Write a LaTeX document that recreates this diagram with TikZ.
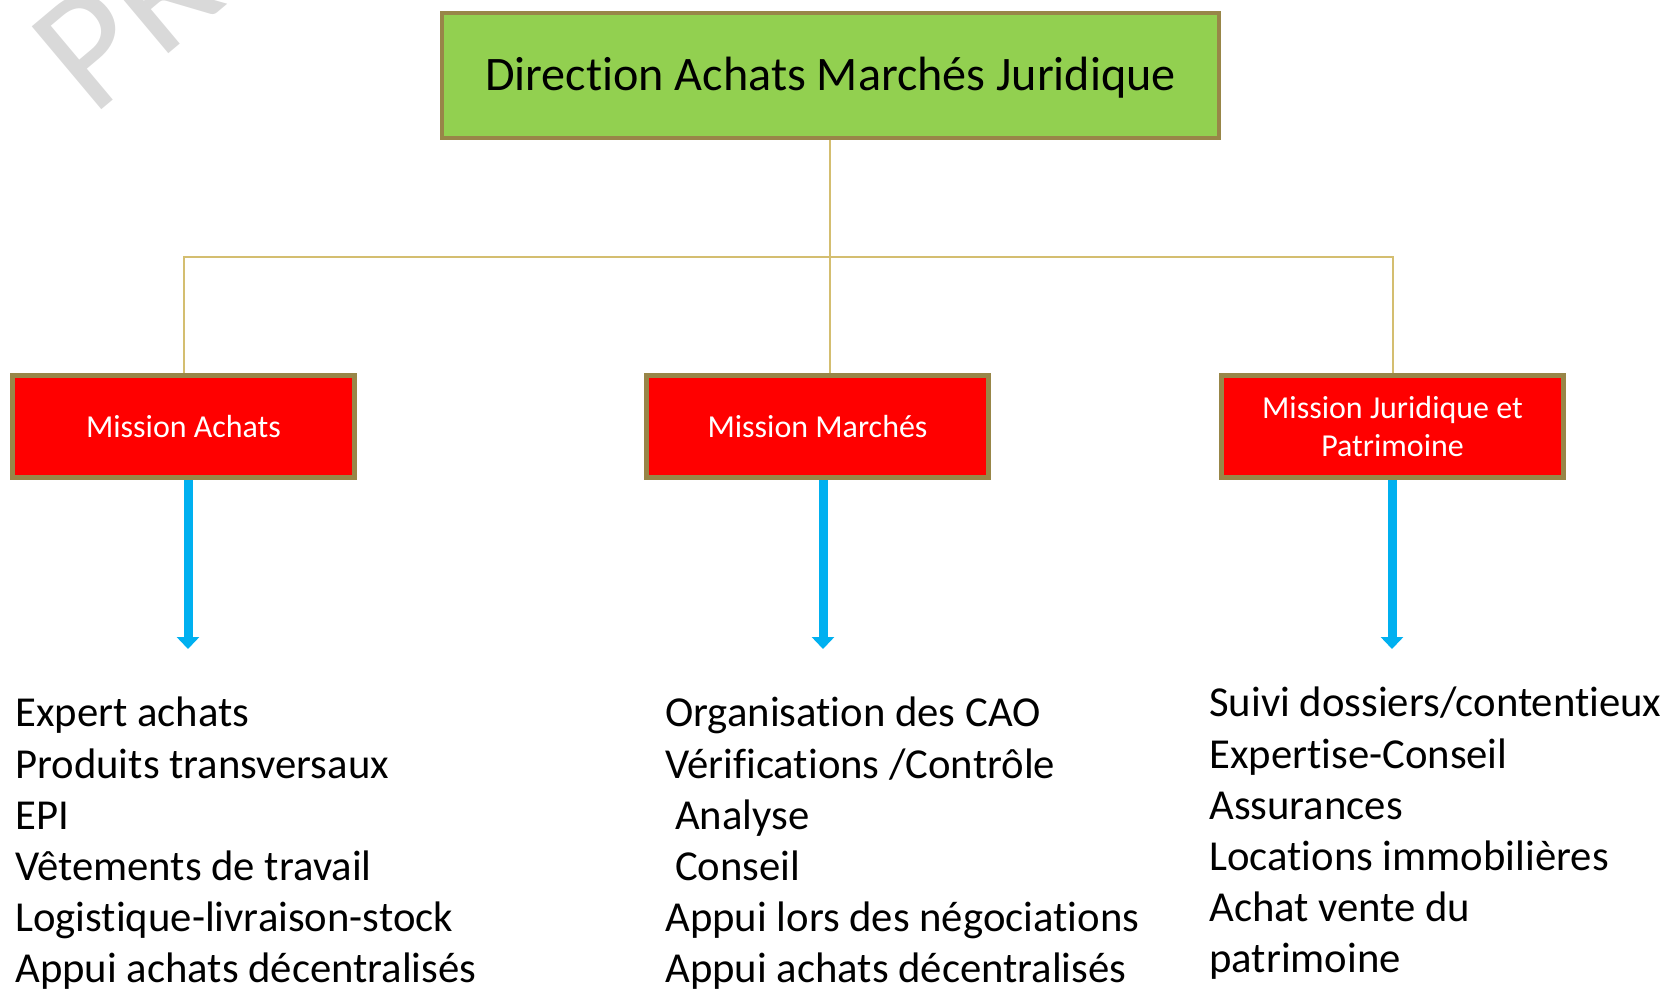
\documentclass[tikz,border=0pt]{standalone}
\usepackage{fontspec}
\setmainfont{Carlito}[RawFeature={-liga;-clig;-calt;-dlig}]
\usetikzlibrary{arrows.meta}

\begin{document}
\begin{tikzpicture}[x=0.02cm, y=-0.02cm,
        dirbox/.style={draw=cadre, fill=vertDir, line width=0.08cm, minimum width=15.54cm, minimum height=2.5cm, inner sep=0pt, font=\fontsize{27.4}{33}\selectfont},
        missionbox/.style={draw=cadre, fill=rougeMission, line width=0.1cm, minimum width=6.84cm, minimum height=2.04cm, inner sep=0pt, text=white, align=center, font=\fontsize{18.2}{21.8}\selectfont},
        lien/.style={lienOr, line width=0.04cm},
        fleche/.style={flecheBleue, line width=0.18cm, -{Triangle[length=0.24cm, width=0.44cm]}},
        liste/.style={anchor=base west, align=left, inner sep=0pt, font=\fontsize{24.3}{29.1}\selectfont}]
        % --- COULEURS ---
        \definecolor{vertDir}{RGB}{146, 208, 80}      % Vert direction
        \definecolor{rougeMission}{RGB}{255, 0, 0}    % Rouge missions
        \definecolor{cadre}{RGB}{152, 134, 72}        % Bordure olive
        \definecolor{lienOr}{RGB}{212, 190, 112}      % Liens hiérarchiques
        \definecolor{flecheBleue}{RGB}{0, 176, 240}   % Flèches
        \definecolor{filigrane}{RGB}{217, 217, 217}   % Filigrane

        \useasboundingbox (0,0) rectangle (1676,988);

        % Filigrane
        \node[rotate=40, anchor=base west, inner sep=0pt, text=filigrane, font=\fontsize{96}{96}\selectfont] (filig) at (92,118) {PR};

        % --- BOÎTES ---
        \node[dirbox, text depth=0.06cm] (dir) at (830.5,75.5) {Direction Achats Marchés Juridique};

        \node[missionbox] (mAchats) at (183.5,426.5) {Mission Achats};
        \node[missionbox] (mMarches) at (817.5,426.5) {Mission Marchés};
        \node[missionbox] (mJuridique) at (1392.5,426.5) {Mission Juridique et\\Patrimoine};

        % Liens hiérarchiques
        \coordinate (bus) at (830,257);
        \draw[lien] (dir.south -| bus) -- (bus);
        \draw[lien] (bus) -| (mAchats.north);
        \draw[lien] (bus) -| (mJuridique.north);
        \draw[lien] (bus) -- (bus |- mMarches.north);

        % --- FLÈCHES ---
        \coordinate (fA) at (188,649);
        \coordinate (fM) at (823,649);
        \coordinate (fJ) at (1392,649);
        \draw[fleche] (mAchats.south -| fA) -- (fA);
        \draw[fleche] (mMarches.south -| fM) -- (fM);
        \draw[fleche] (mJuridique.south -| fJ) -- (fJ);

        % Listes des activités (ancrées sur la dernière ligne)
        \node[liste] (lAchats) at (15,982.5) {Expert achats\\Produits transversaux\\EPI\\Vêtements de travail\\Logistique-livraison-stock\\Appui achats décentralisés};
        \node[liste] (lMarches) at (665,982.5) {Organisation des CAO\\Vérifications /Contrôle\\\ Analyse\\\ Conseil\\Appui lors des négociations\\Appui achats décentralisés};
        \node[liste] (lJuridique) at (1209,972.5) {Suivi dossiers/contentieux\\Expertise-Conseil\\Assurances\\Locations immobilières\\Achat vente du\\patrimoine};
    \end{tikzpicture}
\end{document}
